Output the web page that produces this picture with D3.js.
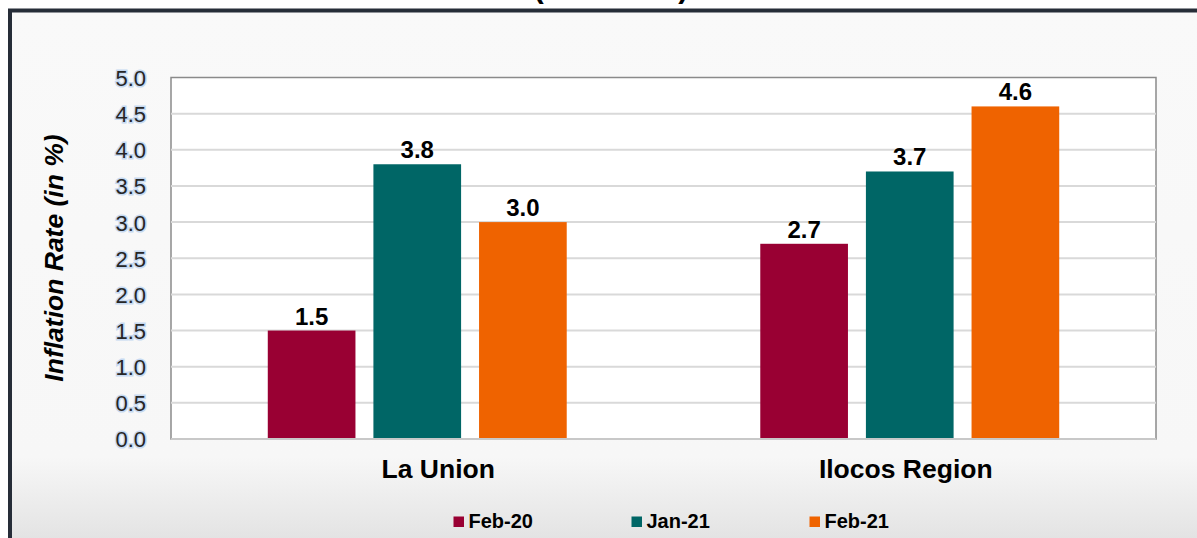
<!DOCTYPE html>
<html>
<head>
<meta charset="utf-8">
<script src="https://cdn.jsdelivr.net/npm/d3@7"></script>
<style>
  body { margin: 0; background: #ffffff; overflow: hidden; }
  text { font-family: "Liberation Sans", Arial, sans-serif; }
</style>
</head>
<body>
<div id="chart"></div>
<script>
//DATA
var categories = ["La Union", "Ilocos Region"];
var seriesNames = ["Feb-20", "Jan-21", "Feb-21"];
var feb20 = [1.5, 2.7];
var jan21 = [3.8, 3.7];
var feb21 = [3.0, 4.6];
var yTicks = [0, 0.5, 1, 1.5, 2, 2.5, 3, 3.5, 4, 4.5, 5];
var colors = ["#990033", "#006666", "#ef6300"];
var titleText = "(2018=100)";
var yTitle = "Inflation Rate (in %)";

var seriesValues = [feb20, jan21, feb21];

//SVG canvas
var svgWidth = 1197;
var svgHeight = 538;

var margin = { top: 77.5, bottom: 99, left: 171, right: 41 };
var chartWidth = svgWidth - margin.left - margin.right;
var chartHeight = svgHeight - margin.top - margin.bottom;

var svg = d3.select("#chart")
    .append("svg")
    .attr("width", svgWidth)
    .attr("height", svgHeight);

//background gradient of the frame
var defs = svg.append("defs");
var grad = defs.append("linearGradient")
    .attr("id", "bg")
    .attr("x1", 0).attr("y1", 0).attr("x2", 0).attr("y2", 1);
grad.append("stop").attr("offset", "0%").attr("stop-color", "#f9f9f9");
grad.append("stop").attr("offset", "80%").attr("stop-color", "#f7f7f7");
grad.append("stop").attr("offset", "100%").attr("stop-color", "#dcdcdc");

//frame with dark border (runs past the right/bottom edges)
svg.append("rect")
    .attr("x", 10)
    .attr("y", 10.5)
    .attr("width", svgWidth + 20)
    .attr("height", svgHeight + 20)
    .attr("fill", "url(#bg)")
    .attr("stroke", "#262d38")
    .attr("stroke-width", 4);

//title, mostly cut off at the top
svg.append("text")
    .attr("x", 611)
    .attr("y", -2)
    .attr("text-anchor", "middle")
    .style("font-size", "30px")
    .style("font-weight", "bold")
    .attr("fill", "#000")
    .text(titleText);

var chartGroup = svg.append("g")
    .attr("transform", `translate(${margin.left}, ${margin.top})`);

//plot area
chartGroup.append("rect")
    .attr("width", chartWidth)
    .attr("height", chartHeight)
    .attr("fill", "#ffffff")
    .attr("stroke", "#8a8a8a")
    .attr("stroke-width", 1.5);

//SCALES
var x0 = d3.scaleBand()
    .domain(categories)
    .range([0, chartWidth])
    .paddingInner(0.393)
    .paddingOuter(0.1965);

var x1 = d3.scaleBand()
    .domain(seriesNames)
    .range([0, x0.bandwidth()])
    .paddingInner(0.17);

var yScale = d3.scaleLinear()
    .domain([0, 5])
    .range([chartHeight, 0]);

//gridlines
chartGroup.append("g")
    .selectAll("line")
    .data(yTicks.filter(d => d > 0 && d < 5))
    .enter()
    .append("line")
    .attr("x1", 0)
    .attr("x2", chartWidth)
    .attr("y1", d => yScale(d))
    .attr("y2", d => yScale(d))
    .attr("stroke", "#d9d9d9")
    .attr("stroke-width", 2);

//left axis (labels only)
var leftAxis = d3.axisLeft(yScale)
    .tickValues(yTicks)
    .tickFormat(d3.format(".1f"))
    .tickSize(0)
    .tickPadding(25);

var yAxisG = chartGroup.append("g").call(leftAxis);
yAxisG.select(".domain").remove();
yAxisG.selectAll("text")
    .style("font-size", "22px")
    .attr("fill", "#262626")
    .attr("stroke", "#c6d9f1")
    .attr("stroke-width", 3)
    .attr("paint-order", "stroke")
    .attr("dy", "0.36em");

//bars
var groups = chartGroup.selectAll(".cat")
    .data(categories)
    .enter()
    .append("g")
    .attr("class", "cat")
    .attr("transform", d => `translate(${x0(d)}, 0)`);

groups.each(function(cat, ci) {
    var g = d3.select(this);
    var rows = seriesNames.map((s, si) => ({ s: s, v: seriesValues[si][ci], c: colors[si] }));

    g.selectAll("rect")
        .data(rows)
        .enter()
        .append("rect")
        .attr("x", d => x1(d.s))
        .attr("y", d => yScale(d.v))
        .attr("width", x1.bandwidth())
        .attr("height", d => chartHeight - yScale(d.v))
        .attr("fill", d => d.c);

    g.selectAll("text")
        .data(rows)
        .enter()
        .append("text")
        .attr("x", d => x1(d.s) + x1.bandwidth() / 2)
        .attr("y", d => yScale(d.v) - 6)
        .attr("text-anchor", "middle")
        .style("font-size", "24px")
        .style("font-weight", "bold")
        .attr("fill", "#000")
        .text(d => d.v.toFixed(1));
});

//bottom axis line
chartGroup.append("line")
    .attr("x1", 0)
    .attr("x2", chartWidth)
    .attr("y1", chartHeight)
    .attr("y2", chartHeight)
    .attr("stroke", "#c8c8c8")
    .attr("stroke-width", 2);

//category labels (the original nudges them a little off centre)
var labelShift = { "La Union": 21, "Ilocos Region": -4 };
var bottomAxis = d3.axisBottom(x0).tickSize(0).tickPadding(31);
var xAxisG = chartGroup.append("g")
    .attr("transform", `translate(0, ${chartHeight})`)
    .call(bottomAxis);
xAxisG.select(".domain").remove();
xAxisG.selectAll("text")
    .style("font-size", "26.5px")
    .style("font-weight", "bold")
    .attr("fill", "#000")
    .attr("dx", d => labelShift[d])
    .attr("dy", "0.3em");

//Y axis title
svg.append("text")
    .attr("transform", "rotate(-90)")
    .attr("x", -258)
    .attr("y", 63)
    .attr("text-anchor", "middle")
    .style("font-size", "26.5px")
    .style("font-weight", "bold")
    .style("font-style", "italic")
    .attr("fill", "#000")
    .text(yTitle);

//legend
var legendX = d3.scalePoint()
    .domain(seriesNames)
    .range([453.5, 809.5]);

var legend = svg.append("g")
    .selectAll("g")
    .data(seriesNames)
    .enter()
    .append("g")
    .attr("transform", d => `translate(${legendX(d)}, 516.5)`);

legend.append("rect")
    .attr("width", 10.5)
    .attr("height", 10.5)
    .attr("fill", (d, i) => colors[i]);

legend.append("text")
    .attr("x", 15)
    .attr("y", 11.5)
    .style("font-size", "20px")
    .style("font-weight", "bold")
    .attr("fill", "#000")
    .text(d => d);
</script>
</body>
</html>
